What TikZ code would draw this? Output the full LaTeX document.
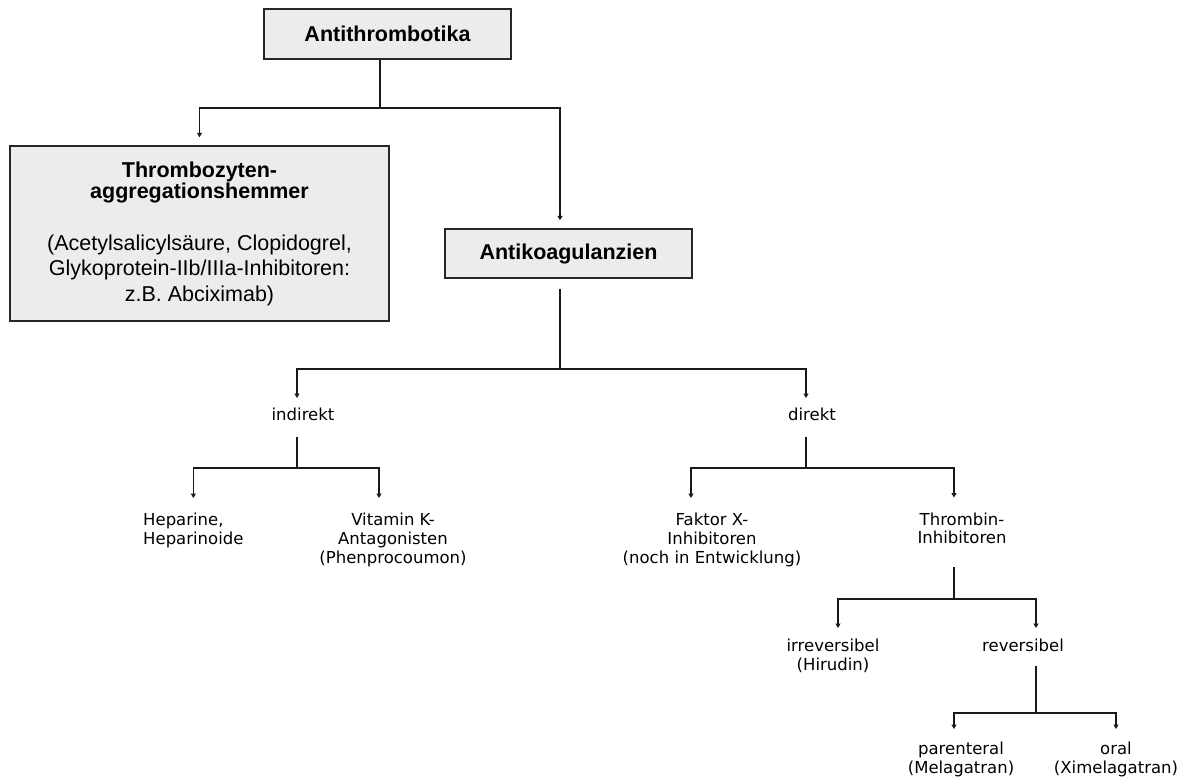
\documentclass[tikz,border=0pt]{standalone}
\usepackage{fontspec}
\setmainfont{Liberation Sans}
\newfontfamily\lblfont{DejaVu Sans}
\usepackage{tikz}
\usetikzlibrary{calc}
\usetikzlibrary{arrows.meta}
\definecolor{boxgray}{gray}{0.925}
\tikzset{
  hbox/.style={draw=black!85, line width=1.4pt, fill=boxgray, inner sep=0pt, align=center,
    font=\fontsize{21.5}{25.5}\selectfont\bfseries},
  lbl/.style={font=\lblfont\fontsize{16.5}{18.7}\selectfont, inner sep=0pt, anchor=north},
  con/.style={black!90, line width=1.3pt},
  arr/.style={con, -{Triangle[length=4.5pt,width=5pt]}}
}

\begin{document}
\begin{tikzpicture}[x=1pt, y=-1pt]
\useasboundingbox (0,0) rectangle (1181,778);

\node[hbox, minimum width=247pt, minimum height=50pt] (anti) at (387.5,34) {Antithrombotika};
\node[hbox, minimum width=379pt, minimum height=175pt, font=\fontsize{21.5}{25.5}\selectfont] (tza) at (199.5,233.5)
  {\textbf{Thrombozyten-}\\[-4.5pt]\textbf{aggregationshemmer}\\[26.5pt](Acetylsalicylsäure, Clopidogrel,\\Glykoprotein-IIb/IIIa-Inhibitoren:\\z.B. Abciximab)};
\node[hbox, minimum width=247pt, minimum height=49pt] (ak) at (568.5,253.5) {Antikoagulanzien};

\node[lbl] (ind) at (303,407.5) {indirekt};
\node[lbl] (dir) at (812,407.5) {direkt};
\node[lbl, anchor=north west, align=left] (hep) at (143,513) {Heparine,\\Heparinoide};
\node[lbl, align=center] (vka) at (393,513) {Vitamin K-\\Antagonisten\\(Phenprocoumon)};
\node[lbl, align=center] (fxi) at (712,513) {Faktor X-\\Inhibitoren\\(noch in Entwicklung)};
\node[lbl, align=center] (thi) at (962,512.5) {Thrombin-\\Inhibitoren};
\node[lbl, align=center] (irr) at (833,639) {irreversibel\\(Hirudin)};
\node[lbl] (rev) at (1023,639) {reversibel};
\node[lbl, align=center] (par) at (961,742) {parenteral\\(Melagatran)};
\node[lbl, align=center] (ora) at (1116,742) {oral\\(Ximelagatran)};

\coordinate (j0) at (380,108);
\coordinate (j1) at (560,369);
\coordinate (j2) at (297,468);
\coordinate (j3) at (806,468);
\coordinate (j4) at (954,599);
\coordinate (j5) at (1036,713);

\draw[con] (anti.south -| j0) -- (j0);
\draw[arr, shorten >=8pt] (j0) -| (tza.north);
\draw[arr, shorten >=8pt] (j0) -| (ak.north -| j1);

\draw[con, shorten <=10pt] (ak.south -| j1) -- (j1);
\draw[arr, shorten >=9.5pt] (j1) -| (ind.north -| j2);
\draw[arr, shorten >=9.5pt] (j1) -| (dir.north -| j3);

\draw[con, shorten <=16pt] (ind.south -| j2) -- (j2);
\draw[arr, shorten >=15pt] (j2) -| (hep.north);
\draw[arr, shorten >=15pt] (j2) -| ([xshift=-14pt]vka.north);

\draw[con, shorten <=16pt] (dir.south -| j3) -- (j3);
\draw[arr, shorten >=15pt] (j3) -| ([xshift=-21pt]fxi.north);
\draw[arr, shorten >=15pt] (j3) -| (thi.north -| j4);

\draw[con, shorten <=23pt] (thi.south -| j4) -- (j4);
\draw[arr, shorten >=11pt] (j4) -| ([xshift=5pt]irr.north);
\draw[arr, shorten >=11pt] (j4) -| (rev.north -| j5);

\draw[con, shorten <=13.5pt] (rev.south -| j5) -- (j5);
\draw[arr, shorten >=13pt] (j5) -| (par.north -| j4);
\draw[arr, shorten >=13pt] (j5) -| (ora.north);

\end{tikzpicture}
\end{document}
